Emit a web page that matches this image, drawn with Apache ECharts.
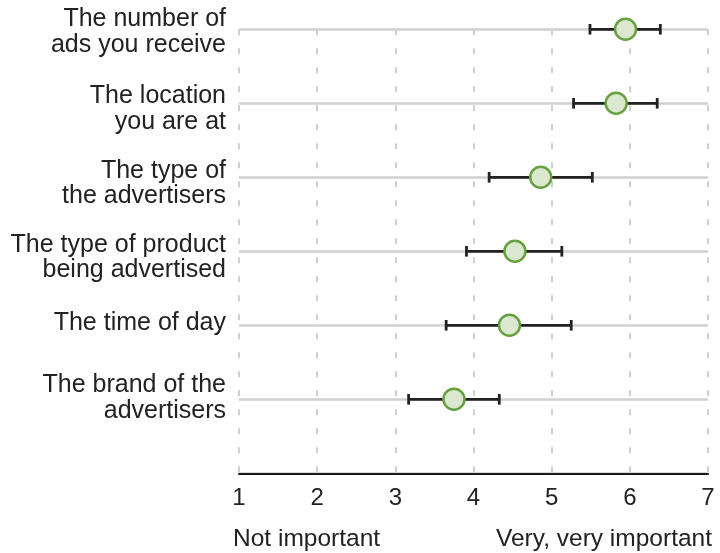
<!DOCTYPE html>
<html>
<head>
<meta charset="utf-8">
<script src="https://cdn.jsdelivr.net/npm/echarts@6/dist/echarts.min.js"></script>
<style>html,body{margin:0;padding:0;background:#fff;}#c{width:720px;height:553px;}</style>
</head>
<body>
<div id="c"></div>
<script>
// Categories from bottom to top (first entry is the empty baseline slot)
var categories = ['', 'The brand of the\nadvertisers', 'The time of day', 'The type of product\nbeing advertised', 'The type of\nthe advertisers', 'The location\nyou are at', 'The number of\nads you receive'];
var means = [null, 3.75, 4.46, 4.53, 4.86, 5.825, 5.945];
var lows  = [null, 3.17, 3.65, 3.91, 4.20, 5.28, 5.49];
var highs = [null, 4.33, 5.25, 5.13, 5.52, 6.35, 6.39];
var xTicks = [1, 2, 3, 4, 5, 6, 7];
var scaleEnds = ['Not important', 'Very, very important'];

var FONT = '"Liberation Sans", Arial, Helvetica, sans-serif';
// per-label vertical nudges (style only), in pixels, same order as categories
var labelNudge = [0, -1, -2.5, 6.5, 6.5, 6, 3];

var rich = {t: {fontFamily: FONT, fontSize: 25, lineHeight: 25.5, color: '#222'}};
labelNudge.forEach(function (n, i) {
  var h = Math.max(1, Math.abs(2 * n));
  rich['sp' + i] = {lineHeight: h, height: h, fontSize: 1};
});
function labelFormatter(value) {
  var idx = categories.indexOf(value);
  if (!value) return '';
  var body = value.split('\n').map(function (l) { return '{t|' + l + '}'; }).join('\n');
  var n = labelNudge[idx] || 0;
  if (n > 0) return '{sp' + idx + '|}\n' + body;
  if (n < 0) return body + '\n{sp' + idx + '|}';
  return body;
}

var pointData = [], errData = [];
for (var i = 1; i < categories.length; i++) {
  pointData.push([means[i], categories[i]]);
  errData.push([lows[i], highs[i], categories[i]]);
}

var chart = echarts.init(document.getElementById('c'), null, {renderer: 'canvas'});
chart.setOption({
  animation: false,
  backgroundColor: '#fff',
  grid: {left: 239, right: 12, top: 29.3, bottom: 79.7, containLabel: false},
  xAxis: {
    type: 'value', min: xTicks[0], max: xTicks[xTicks.length - 1], interval: 1,
    axisLine: {show: true, lineStyle: {color: '#1a1a1a', width: 2}},
    axisTick: {show: false},
    axisLabel: {fontFamily: FONT, fontSize: 24, color: '#222', margin: 13.5},
    splitLine: {show: true, lineStyle: {color: '#cfcfcf', width: 2, type: [6, 13]}}
  },
  yAxis: {
    type: 'category', data: categories, boundaryGap: false,
    axisLine: {show: false}, axisTick: {show: false},
    axisLabel: {fontFamily: FONT, fontSize: 25, lineHeight: 25.5, color: '#222', margin: 13, align: 'right', interval: 0,
      formatter: labelFormatter, rich: rich},
    splitLine: {show: true, interval: 0, lineStyle: {color: '#d0d0d0', width: 2.5}}
  },
  graphic: [
    {type: 'text', left: 233, top: 527, style: {text: scaleEnds[0], font: '24.5px ' + FONT, fill: '#222'}},
    {type: 'text', right: 8, top: 527, style: {text: scaleEnds[1], font: '24.5px ' + FONT, fill: '#222'}}
  ],
  series: [
    {
      type: 'custom',
      data: errData,
      z: 3,
      renderItem: function (params, api) {
        var p1 = api.coord([api.value(0), api.value(2)]);
        var p2 = api.coord([api.value(1), api.value(2)]);
        var h = 5.3;
        var st = {stroke: '#222', lineWidth: 2.8};
        return {type: 'group', children: [
          {type: 'line', shape: {x1: p1[0], y1: p1[1], x2: p2[0], y2: p2[1]}, style: st},
          {type: 'line', shape: {x1: p1[0], y1: p1[1] - h, x2: p1[0], y2: p1[1] + h}, style: st},
          {type: 'line', shape: {x1: p2[0], y1: p2[1] - h, x2: p2[0], y2: p2[1] + h}, style: st}
        ]};
      },
      encode: {x: [0, 1], y: 2}
    },
    {
      type: 'scatter',
      data: pointData,
      z: 4,
      symbol: 'circle',
      symbolSize: 21,
      itemStyle: {color: '#dbe8cf', borderColor: '#67a041', borderWidth: 2.5, opacity: 1}
    }
  ]
});
</script>
</body>
</html>
